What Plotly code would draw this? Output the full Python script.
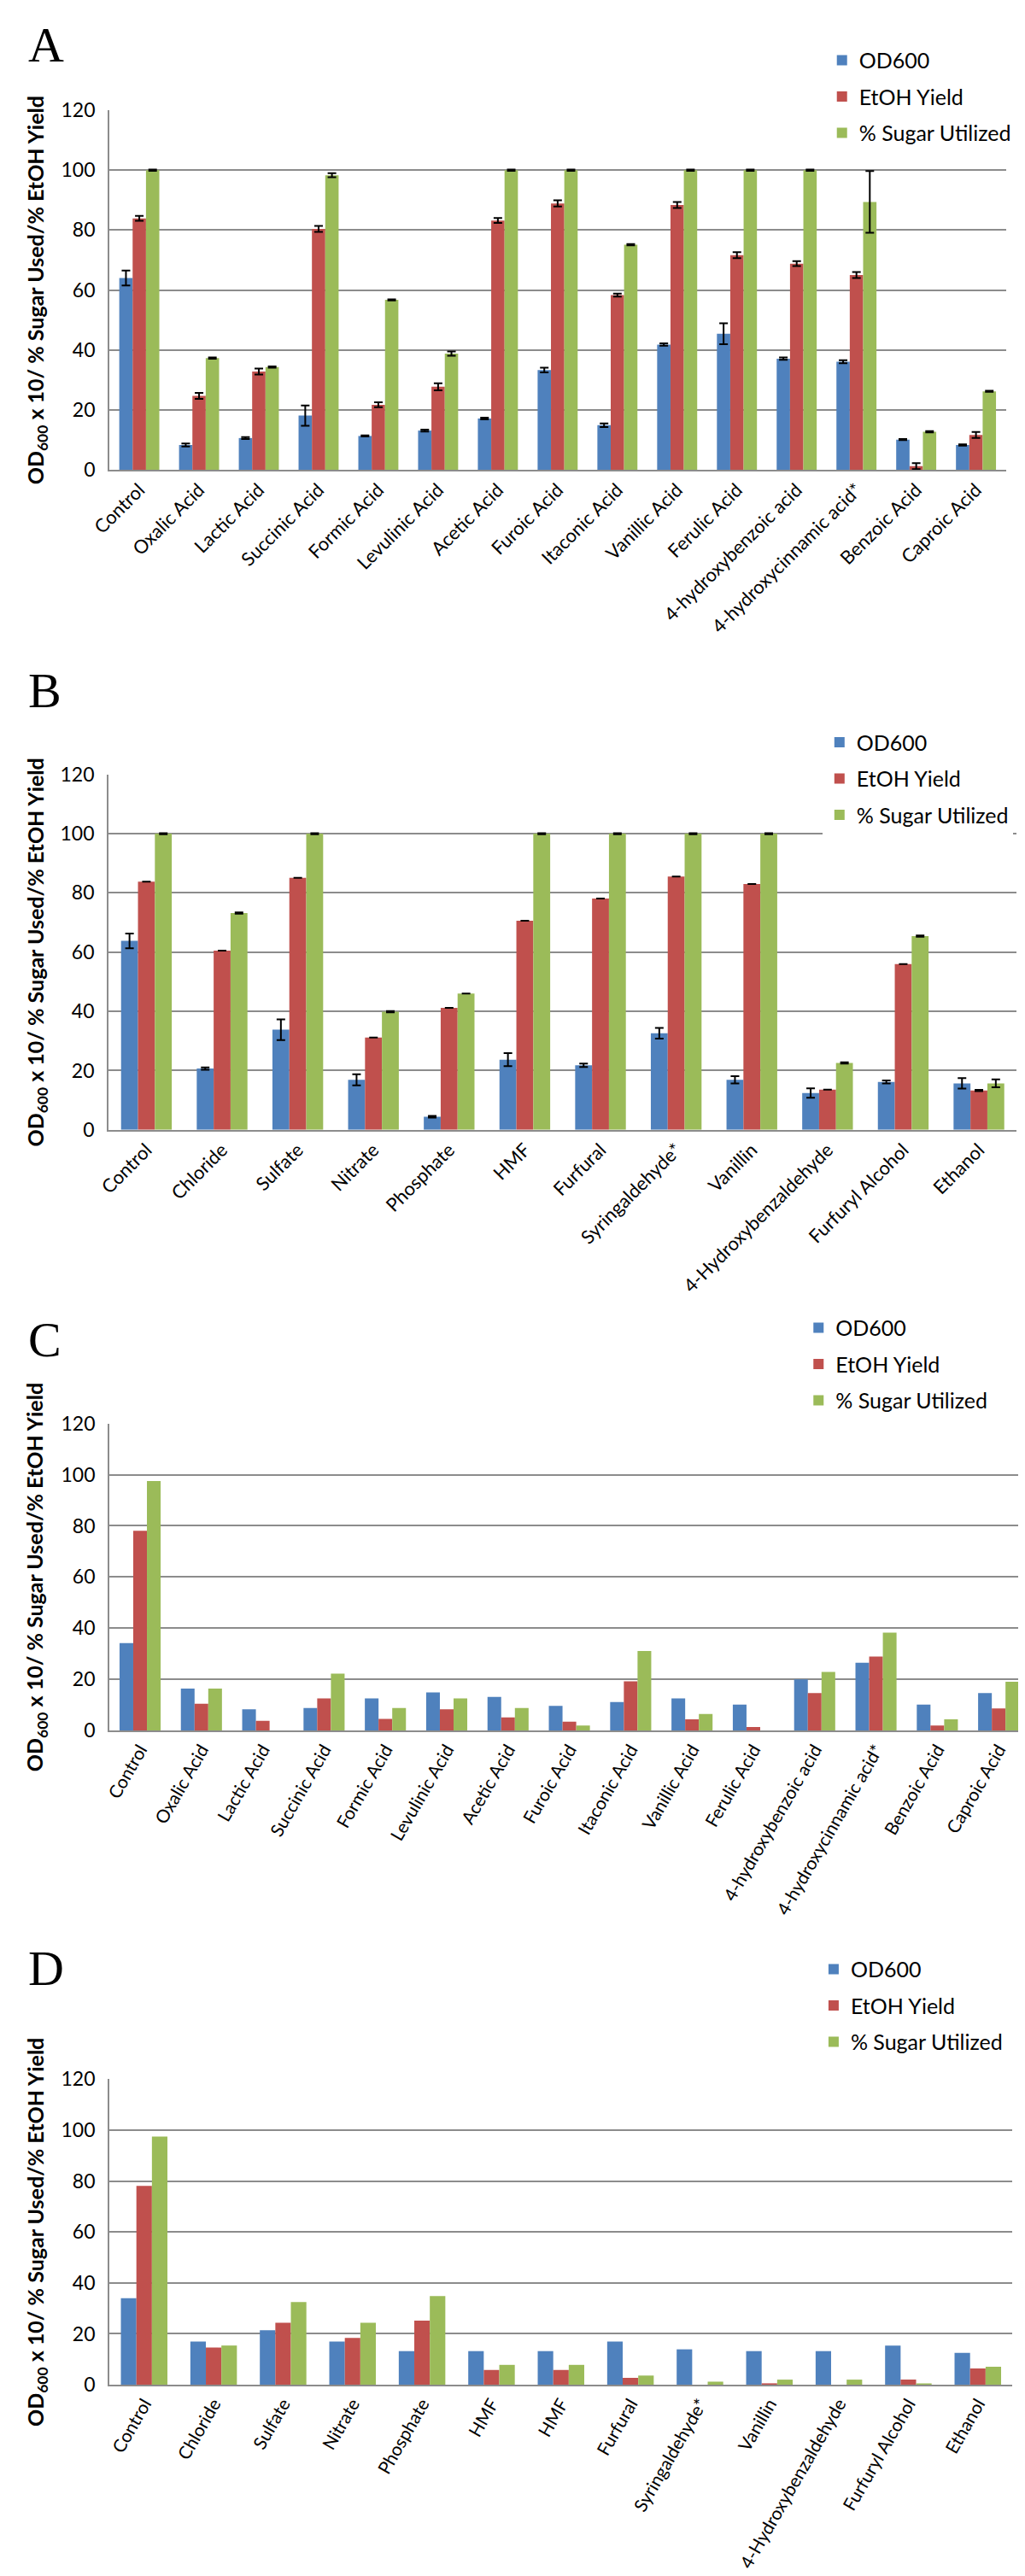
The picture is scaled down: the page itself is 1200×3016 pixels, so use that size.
import plotly.graph_objects as go

# ---------------- data ----------------
series_names = ["OD600", "EtOH Yield", "% Sugar Utilized"]
series_colors = ["#4F81BD", "#C0504D", "#9BBB59"]

# Panel A
a_categories = ["Control", "Oxalic Acid", "Lactic Acid", "Succinic Acid", "Formic Acid",
                "Levulinic Acid", "Acetic Acid", "Furoic Acid", "Itaconic Acid", "Vanillic Acid",
                "Ferulic Acid", "4-hydroxybenzoic acid", "4-hydroxycinnamic acid*", "Benzoic Acid",
                "Caproic Acid"]
a_od600 = [64.0, 8.3, 10.6, 18.1, 11.3, 13.1, 17.1, 33.3, 14.9, 41.8, 45.4, 37.1, 36.1, 10.1, 8.3]
a_od600_err = [2.5, 0.5, 0.3, 3.4, 0.2, 0.3, 0.3, 0.8, 0.6, 0.4, 3.5, 0.4, 0.5, 0.2, 0.2]
a_etoh = [83.9, 24.7, 32.8, 80.4, 21.7, 27.7, 83.2, 88.9, 58.3, 88.4, 71.6, 68.8, 65.0, 1.2, 11.6]
a_etoh_err = [0.8, 1.0, 1.0, 1.0, 0.8, 1.2, 0.8, 1.0, 0.5, 1.0, 1.0, 0.8, 1.0, 1.0, 1.0]
a_sugar = [100.0, 37.3, 34.3, 98.3, 56.7, 38.8, 100.0, 100.0, 75.1, 100.0, 100.0, 100.0, 89.4, 12.7, 26.2]
a_sugar_err = [0.2, 0.2, 0.2, 0.7, 0.2, 0.7, 0.2, 0.2, 0.2, 0.2, 0.2, 0.2, 10.3, 0.2, 0.2]

# Panel B
b_categories = ["Control", "Chloride", "Sulfate", "Nitrate", "Phosphate", "HMF", "Furfural",
                "Syringaldehyde*", "Vanillin", "4-Hydroxybenzaldehyde", "Furfuryl Alcohol", "Ethanol"]
b_od600 = [63.8, 20.7, 33.8, 16.9, 4.4, 23.7, 21.8, 32.6, 16.9, 12.4, 16.2, 15.7]
b_od600_err = [2.5, 0.4, 3.5, 1.9, 0.3, 2.2, 0.6, 1.8, 1.2, 1.6, 0.5, 1.8]
b_etoh = [83.8, 60.5, 85.1, 31.2, 41.2, 70.6, 78.1, 85.5, 83.0, 13.6, 56.0, 13.3]
b_etoh_err = [None, None, None, None, None, None, None, None, None, None, None, 0.2]
b_sugar = [100.0, 73.2, 100.0, 39.9, 46.0, 100.0, 100.0, 100.0, 100.0, 22.6, 65.4, 15.7]
b_sugar_err = [0.2, 0.2, 0.2, 0.2, None, 0.2, 0.2, 0.2, 0.2, 0.2, 0.2, 1.3]

# Panel C
c_categories = a_categories
c_od600 = [34.2, 16.4, 8.3, 8.8, 12.6, 14.9, 13.2, 9.7, 11.2, 12.6, 10.2, 20.0, 26.5, 10.2, 14.7]
c_etoh = [78.1, 10.5, 3.8, 12.6, 4.6, 8.3, 5.2, 3.5, 19.3, 4.4, 1.4, 14.7, 28.9, 2.0, 8.7]
c_sugar = [97.5, 16.4, -1.2, 22.3, 8.8, 12.6, 8.8, 2.0, 31.1, 6.5, -1.0, 22.9, 38.3, 4.4, 19.1]

# Panel D
d_categories = ["Control", "Chloride", "Sulfate", "Nitrate", "Phosphate", "HMF", "HMF", "Furfural",
                "Syringaldehyde*", "Vanillin", "4-Hydroxybenzaldehyde", "Furfuryl Alcohol", "Ethanol"]
d_od600 = [34.0, 17.0, 21.4, 17.0, 13.2, 13.2, 13.2, 17.0, 13.9, 13.2, 13.2, 15.4, 12.5]
d_etoh = [78.1, 14.6, 24.3, 18.4, 25.2, 5.8, 5.8, 2.7, 0.0, 0.5, 0.0, 2.0, 6.4]
d_sugar = [97.5, 15.4, 32.5, 24.3, 34.8, 7.8, 7.8, 3.6, 1.2, 2.0, 2.0, 0.5, 7.1]

y_ticks = [0, 20, 40, 60, 80, 100, 120]
panel_letters = ["A", "B", "C", "D"]
y_title = "<b>OD<sub>600</sub> x 10/ % Sugar Used/% EtOH Yield</b>"

# ---------------- layout geometry (pixels) ----------------
W, H = 1200, 3016
panels = [
    dict(cats=a_categories, vals=[a_od600, a_etoh, a_sugar], errs=[a_od600_err, a_etoh_err, a_sugar_err],
         x0=99, x1=1169, y0=107, y1=532, angle=-45, xfont=22, leg_x=953, leg_y=25, letter_y=30),
    dict(cats=b_categories, vals=[b_od600, b_etoh, b_sugar], errs=[b_od600_err, b_etoh_err, b_sugar_err],
         x0=98, x1=1182, y0=892, y1=1312, angle=-45, xfont=22, leg_x=950, leg_y=831, letter_y=793),
    dict(cats=c_categories, vals=[c_od600, c_etoh, c_sugar], errs=None,
         x0=99, x1=1197, y0=1659, y1=2022, angle=-60, xfont=21, leg_x=925, leg_y=1523, letter_y=1560),
    dict(cats=d_categories, vals=[d_od600, d_etoh, d_sugar], errs=None,
         x0=99, x1=1177, y0=2434, y1=2795, angle=-60, xfont=21, leg_x=943, leg_y=2281, letter_y=2303),
]

FONT = "Lato"
GRID = "#8C8C8C"

fig = go.Figure()
layout = dict(
    width=W, height=H, autosize=False,
    margin=dict(l=0, r=0, t=0, b=0),
    paper_bgcolor="white", plot_bgcolor="white",
    barmode="group", bargap=0.33, bargroupgap=0.0,
    font=dict(family=FONT, color="black"),
    annotations=[],
)

for p_i, p in enumerate(panels):
    idx = "" if p_i == 0 else str(p_i + 1)
    xa, ya = "x" + idx, "y" + idx
    leg = "legend" + idx
    n = len(p["cats"])
    xs = list(range(n))
    for s_i in range(3):
        err = None
        if p["errs"] is not None:
            e = p["errs"][s_i]
            err = dict(type="data", array=e, visible=True, color="black",
                       thickness=2, width=5)
        fig.add_trace(go.Bar(
            x=xs, y=p["vals"][s_i], name=series_names[s_i],
            marker=dict(color=series_colors[s_i], line=dict(width=0)),
            error_y=err, xaxis=xa, yaxis=ya, legend=leg,
            legendgroup=f"{p_i}_{s_i}", cliponaxis=False,
            showlegend=True,
        ))
    layout["xaxis" + idx] = dict(
        domain=[p["x0"] / W, p["x1"] / W], anchor=ya,
        range=[-0.5, n - 0.5], tickmode="array", tickvals=xs, ticktext=p["cats"],
        tickangle=p["angle"], showgrid=False, zeroline=False,
        showline=True, linecolor=GRID, linewidth=2, ticks="",
        tickfont=dict(family=FONT, size=p["xfont"], color="black"),
    )
    layout["yaxis" + idx] = dict(
        domain=[1 - p["y1"] / H, 1 - p["y0"] / H], anchor=xa,
        range=[0, 120], tickmode="array", tickvals=y_ticks,
        showgrid=True, gridcolor=GRID, gridwidth=2, zeroline=False,
        showline=True, linecolor=GRID, linewidth=2, ticks="",
        ticklabelstandoff=10,
        tickfont=dict(family=FONT, size=23, color="black"),
    )
    layout[leg] = dict(
        x=p["leg_x"] / W, y=1 - p["leg_y"] / H, xanchor="left", yanchor="top",
        bgcolor="white", borderwidth=0, traceorder="grouped", tracegroupgap=7,
        font=dict(family=FONT, size=25, color="black"),
    )
    layout["annotations"].append(dict(
        text=y_title, xref="paper", yref="paper", x=12 / W,
        y=1 - (p["y0"] + p["y1"]) / 2 / H, xanchor="center", yanchor="middle",
        textangle=-90, showarrow=False, font=dict(family=FONT, size=25, color="black"),
    ))
    layout["annotations"].append(dict(
        text=panel_letters[p_i], xref="paper", yref="paper", x=0, xanchor="left",
        y=1 - p["letter_y"] / H, yanchor="middle", showarrow=False,
        font=dict(family="Liberation Serif", size=58, color="black"),
    ))

fig.update_layout(**layout)
fig.write_html("out.html")
